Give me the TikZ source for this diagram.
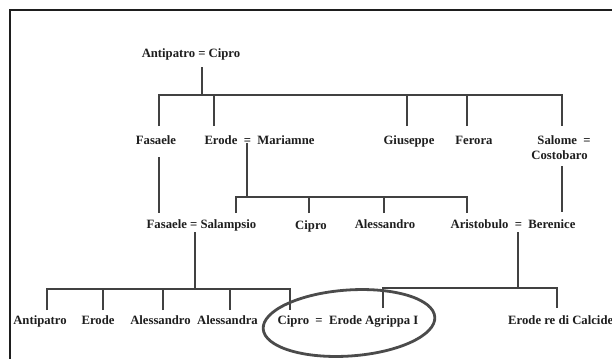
\documentclass[tikz,border=0pt]{standalone}
\usepackage{fontspec}
\setmainfont{Liberation Serif}
\definecolor{ink}{RGB}{30,30,30}
\definecolor{linec}{RGB}{65,65,65}
\definecolor{ovalc}{RGB}{75,75,75}
\begin{document}
\begin{tikzpicture}[x=1pt,y=-1pt,
  person/.style={font=\bfseries\fontsize{12.7}{15}\selectfont, text=ink, inner sep=0pt, anchor=base},
  conn/.style={draw=linec, line width=1.7pt},
  frame/.style={draw=ink, line width=1.8pt},
  oval/.style={draw=ovalc, line width=2.8pt}]
\useasboundingbox (0,0) rectangle (612,359);
\fill[white] (0,0) rectangle (612,359);
\draw[frame] (9,10) -- (612,10);
\draw[frame] (10,10) -- (10,359);

% row 1
\node[person] (ac) at (191,57) {Antipatro = Cipro};
% row 2
\node[person] (fas) at (156,144) {Fasaele};
\node[person] (erm) at (259.5,144) {Erode~~=~~Mariamne};
\node[person] (giu) at (409,144) {Giuseppe};
\node[person] (fer) at (474,144) {Ferora};
\node[person] (sal) at (564,144) {Salome~~=};
\node[person] (cost) at (559.5,159) {Costobaro};
% row 3
\node[person] (fsal) at (201.5,228) {Fasaele = Salampsio};
\node[person] (cip) at (311,229) {Cipro};
\node[person] (ale) at (385,228) {Alessandro};
\node[person] (arib) at (513,228) {Aristobulo~~=~~Berenice};
% row 4
\node[person] (ant) at (40,324) {Antipatro};
\node[person] (ero) at (98,324) {Erode};
\node[person] (alx) at (160.5,324) {Alessandro};
\node[person] (ala) at (227.5,324) {Alessandra};
\node[person] (agr) at (348,324) {Cipro~~=~~Erode Agrippa I};
\node[person, anchor=base west] (cal) at (508,324) {Erode re di Calcide};

% connector points
\coordinate (acD) at (202,67);   \coordinate (j1) at (202,95);
\coordinate (fasT) at (159,126); \coordinate (ermT) at (214,126);
\coordinate (giuT) at (407,126); \coordinate (ferT) at (467,126);
\coordinate (salT) at (562,126);
\coordinate (fasB) at (159,157); \coordinate (fsalT) at (159,213);
\coordinate (ermD) at (247,143); \coordinate (j2) at (247,197);
\coordinate (fsalT2) at (236,213); \coordinate (cipT) at (309,213);
\coordinate (aleT) at (384,213); \coordinate (ariT) at (467,213);
\coordinate (costB) at (562,166); \coordinate (berT) at (562,212);
\coordinate (fsalD) at (195,232); \coordinate (j3) at (195,289);
\coordinate (antT) at (47,310); \coordinate (eroT) at (103,310);
\coordinate (alxT) at (163,310); \coordinate (alaT) at (230,310);
\coordinate (cip4T) at (290,310);
\coordinate (ariD) at (518,232); \coordinate (j4) at (518,288);
\coordinate (agrT) at (383,308); \coordinate (calT) at (557,308);

% generation 1 -> 2
\draw[conn] (acD) -- (j1);
\draw[conn] (fasT) |- (j1) -| (salT);
\draw[conn] (ermT) -- (ermT |- j1);
\draw[conn] (giuT) -- (giuT |- j1);
\draw[conn] (ferT) -- (ferT |- j1);
% generation 2 -> 3
\draw[conn] (fasB) -- (fsalT);
\draw[conn] (ermD) -- (j2);
\draw[conn] (fsalT2) |- (j2) -| (ariT);
\draw[conn] (cipT) -- (cipT |- j2);
\draw[conn] (aleT) -- (aleT |- j2);
\draw[conn] (costB) -- (berT);
% generation 3 -> 4
\draw[conn] (fsalD) -- (j3);
\draw[conn] (antT) |- (j3) -| (cip4T);
\draw[conn] (eroT) -- (eroT |- j3);
\draw[conn] (alxT) -- (alxT |- j3);
\draw[conn] (alaT) -- (alaT |- j3);
\draw[conn] (ariD) -- (j4);
\draw[conn] (agrT) |- (j4) -| (calT);

% highlight oval
\draw[oval] (349,323) ellipse[x radius=86, y radius=33, rotate=4];
\end{tikzpicture}
\end{document}
